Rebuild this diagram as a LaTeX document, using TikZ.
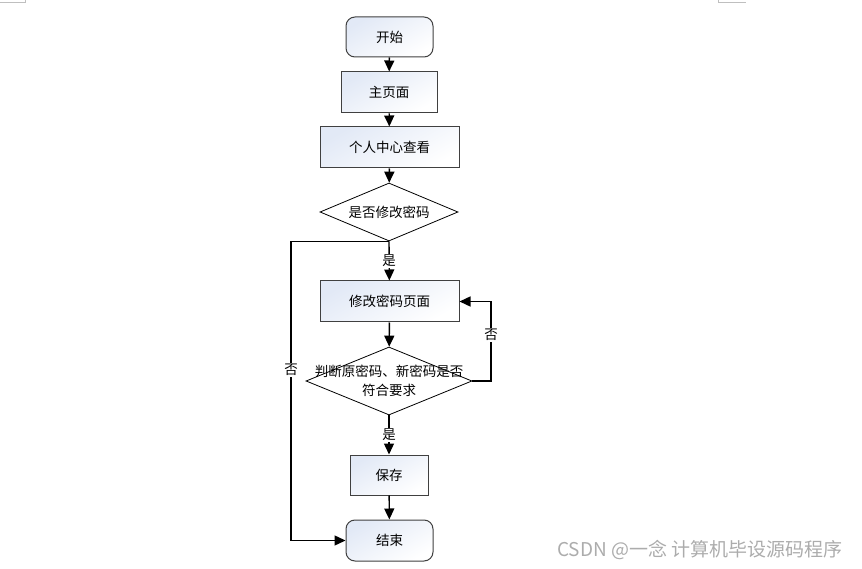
\documentclass[tikz,border=0pt]{standalone}
\usepackage{fontspec}
\setmainfont{Noto Sans CJK SC}
\usetikzlibrary{shapes.geometric,arrows.meta}

\definecolor{boxline}{HTML}{404040}
\definecolor{boxtint}{HTML}{E2E9F6}

\tikzset{
  base/.style={draw=boxline, line width=1pt, font=\fontsize{13.5}{16}\selectfont,
    top color=boxtint, bottom color=white, shading angle=30, inner sep=0pt},
  terminal/.style={base, rounded corners=9pt, minimum width=87pt, minimum height=40pt},
  process/.style={base, minimum height=41pt},
  decision/.style={draw=black, line width=0.8pt, fill=white, diamond, aspect=2.4,
    inner sep=0pt, font=\fontsize{13.5}{16}\selectfont},
  flow/.style={-{Triangle[width=10pt,length=11pt]}, line width=1.4pt},
  tag/.style={fill=white, inner sep=1pt, font=\fontsize{13.5}{16}\selectfont}
}

\begin{document}
\begin{tikzpicture}[x=1pt, y=-1pt]
    \useasboundingbox (0,0) rectangle (862,569);

    % Page corner marks
    \draw[gray!50] (0,2) -- (25,2) -- (25,0);
    \draw[gray!50] (718,0) -- (718,2) -- (746,2);

    % Main flow
    \node[terminal] (start) at (389.5,37) {开始};
    \node[process, minimum width=96pt] (home) at (389,92.5) {主页面};
    \node[process, minimum width=139pt] (center) at (389.5,147.5) {个人中心查看};
    \node[decision, minimum width=138pt, minimum height=58pt] (ask) at (389,212) {是否修改密码};
    \node[process, minimum width=139pt] (edit) at (389.5,301.5) {修改密码页面};
    \node[decision, minimum width=166pt, minimum height=68pt] (check) at (389,381) {};
    \node[align=center, font=\fontsize{13.5}{19}\selectfont] (checktext) at (389,380.5)
      {判断原密码、新密码是否\\符合要求};
    \node[process, minimum width=78pt, minimum height=40pt] (save) at (389,475) {保存};
    \node[terminal, minimum height=41pt] (finish) at (389.5,540.5) {结束};

    % Loop guides
    \coordinate (leftx) at (291,0);
    \coordinate (rightx) at (491,0);

    % Connectors
    \draw[flow] (start) -- (home);
    \draw[flow] (home) -- (center);
    \draw[flow] (center) -- (ask);
    \draw[flow] (ask.south) -- node[tag] {是} (edit);
    \draw[flow] (ask.south) -- (ask.south -| leftx) |- node[tag, pos=0.215] {否} (finish.west);
    \draw[flow] (edit) -- (check);
    \draw[flow] (check.east) -- (check.east -| rightx) |- node[tag, pos=0.29] {否} (edit.east);
    \draw[flow] (check.south) -- node[tag, pos=0.5] {是} (save);
    \draw[flow] (save) -- (finish);

    % Watermark
    \node[anchor=east, text=gray!65, font=\fontsize{19}{22}\selectfont] (mark) at (846,550)
      {CSDN @一念 计算机毕设源码程序};
\end{tikzpicture}
\end{document}
